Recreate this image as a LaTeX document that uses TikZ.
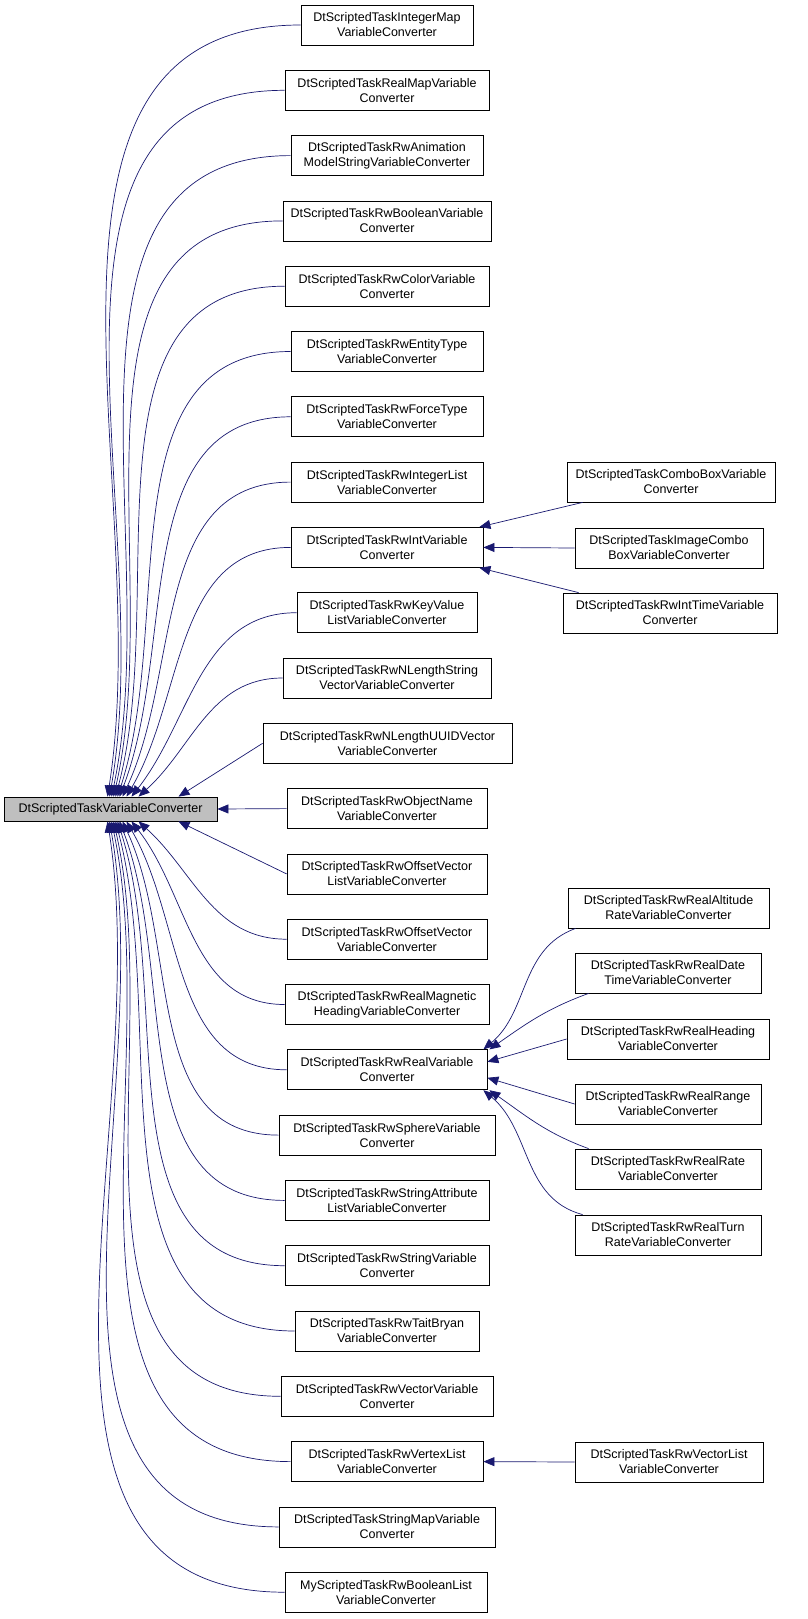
\documentclass[tikz,border=0pt]{standalone}
\usepackage{fontspec}
\setmainfont{Liberation Sans}
\usetikzlibrary{arrows.meta}
\definecolor{edgec}{HTML}{191970}
\begin{document}
\begin{tikzpicture}[x=1pt,y=-1pt,
  box/.style={draw,line width=0.8pt,minimum height=40pt,inner sep=1pt,align=center,font=\fontsize{12.5}{15}\selectfont},
  edge/.style={draw=edgec,line width=0.7pt,-{Triangle[length=11pt,width=9pt]}}]
\useasboundingbox (0,0) rectangle (808,1619);
\node[box,fill={rgb,255:red,191;green,191;blue,191},minimum height=24pt,minimum width=213pt,align=left] (root) at (110.5,809) {DtScriptedTaskVariableConverter};
\foreach \i/\l/\r/\t in {
0/301/473/{DtScriptedTaskIntegerMap\\VariableConverter},
1/285/489/{DtScriptedTaskRealMapVariable\\Converter},
2/291/483/{DtScriptedTaskRwAnimation\\ModelStringVariableConverter},
3/283/491/{DtScriptedTaskRwBooleanVariable\\Converter},
4/285/489/{DtScriptedTaskRwColorVariable\\Converter},
5/291/483/{DtScriptedTaskRwEntityType\\VariableConverter},
6/291/483/{DtScriptedTaskRwForceType\\VariableConverter},
7/291/483/{DtScriptedTaskRwIntegerList\\VariableConverter},
8/291/483/{DtScriptedTaskRwIntVariable\\Converter},
9/297/477/{DtScriptedTaskRwKeyValue\\ListVariableConverter},
10/283/491/{DtScriptedTaskRwNLengthString\\VectorVariableConverter},
11/263/512/{DtScriptedTaskRwNLengthUUIDVector\\VariableConverter},
12/287/487/{DtScriptedTaskRwObjectName\\VariableConverter},
13/287/487/{DtScriptedTaskRwOffsetVector\\ListVariableConverter},
14/287/487/{DtScriptedTaskRwOffsetVector\\VariableConverter},
15/285/489/{DtScriptedTaskRwRealMagnetic\\HeadingVariableConverter},
16/287/487/{DtScriptedTaskRwRealVariable\\Converter},
17/279/495/{DtScriptedTaskRwSphereVariable\\Converter},
18/285/489/{DtScriptedTaskRwStringAttribute\\ListVariableConverter},
19/285/489/{DtScriptedTaskRwStringVariable\\Converter},
20/295/479/{DtScriptedTaskRwTaitBryan\\VariableConverter},
21/281/493/{DtScriptedTaskRwVectorVariable\\Converter},
22/291/483/{DtScriptedTaskRwVertexList\\VariableConverter},
23/279/495/{DtScriptedTaskStringMapVariable\\Converter},
24/285/487/{MyScriptedTaskRwBooleanList\\VariableConverter}}
{\pgfmathsetmacro\w{\r-\l}\pgfmathsetmacro\cx{(\r+\l)/2}\pgfmathsetmacro\cy{25+65.3*\i}
 \node[box,minimum width=\w pt] (m\i) at (\cx,\cy) {\t};}
\foreach \n/\l/\r/\y/\t in {
cb/567/775/482/{DtScriptedTaskComboBoxVariable\\Converter},
ic/575/763/548/{DtScriptedTaskImageCombo\\BoxVariableConverter},
it/563/777/613/{DtScriptedTaskRwIntTimeVariable\\Converter},
ra/568/769/908/{DtScriptedTaskRwRealAltitude\\RateVariableConverter},
rd/575/761/973/{DtScriptedTaskRwRealDate\\TimeVariableConverter},
rh/567/769/1039/{DtScriptedTaskRwRealHeading\\VariableConverter},
rr/575/761/1104/{DtScriptedTaskRwRealRange\\VariableConverter},
rt/575/761/1169/{DtScriptedTaskRwRealRate\\VariableConverter},
ru/575/761/1235/{DtScriptedTaskRwRealTurn\\RateVariableConverter},
vl/575/763/1462/{DtScriptedTaskRwVectorList\\VariableConverter}}
{\pgfmathsetmacro\w{\r-\l}\pgfmathsetmacro\cx{(\r+\l)/2}
 \node[box,minimum width=\w pt] (\n) at (\cx,\y) {\t};}
% edges to root
\foreach \i/\dx/\ang in {0/-3/81,1/-1/80,2/1/78,3/3/77,4/5/75,5/7/72,6/9/69,7/12/65,8/16/60,9/21/52,10/28/42}
  \draw[edge] (m\i.west) to[out=180,in=\ang] ([xshift=\dx pt]root.north);
\draw[edge] (m11.west) -- ([xshift=68pt]root.north);
\draw[edge] (m12.west) -- (root.east);
\draw[edge] (m13.west) -- ([xshift=68pt]root.south);
\foreach \i/\dx/\ang in {14/28/-42,15/21/-52,16/16/-60,17/12/-65,18/9/-69,19/7/-72,20/5/-75,21/3/-77,22/1/-78,23/-1/-80,24/-3/-81}
  \draw[edge] (m\i.west) to[out=180,in=\ang] ([xshift=\dx pt]root.south);
% right edges
\draw[edge] ([xshift=16pt]cb.south west) -- ([xshift=-4pt]m8.north east);
\draw[edge] (ic.west) -- (m8.east);
\draw[edge] ([xshift=16pt]it.north west) -- ([xshift=-4pt]m8.south east);
\draw[edge] ([xshift=8pt]ra.south west) to[out=200,in=40] ([xshift=-4pt]m16.north east);
\draw[edge] ([xshift=14pt]rd.south west) to[out=200,in=35] ([xshift=2pt]m16.north east);
\draw[edge] (rh.west) -- ([yshift=8pt]m16.east);
\draw[edge] (rr.west) -- ([yshift=-8pt]m16.east);
\draw[edge] ([xshift=14pt]rt.north west) to[out=160,in=-35] ([xshift=2pt]m16.south east);
\draw[edge] ([xshift=8pt]ru.north west) to[out=165,in=-40] ([xshift=-4pt]m16.south east);
\draw[edge] (vl.west) -- (m22.east);
\end{tikzpicture}
\end{document}
